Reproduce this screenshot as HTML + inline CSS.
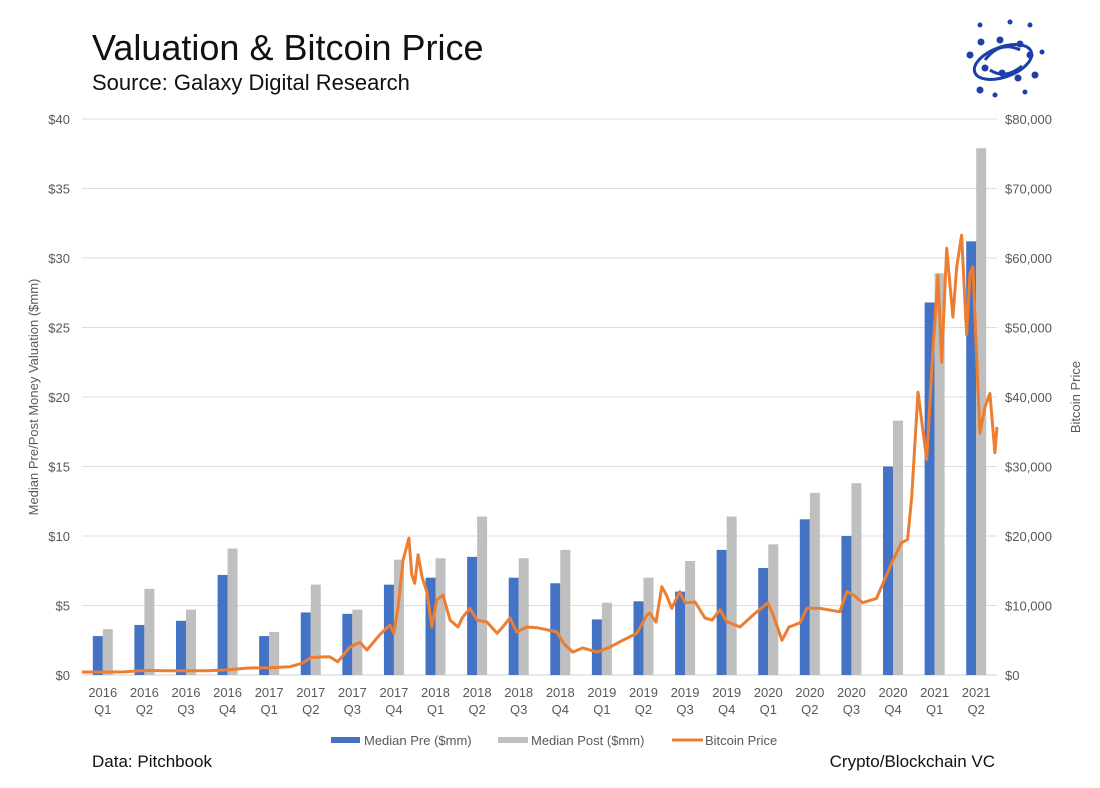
<!DOCTYPE html>
<html><head><meta charset="utf-8"><style>
body{margin:0;background:#fff;font-family:"Liberation Sans",sans-serif;}
#wrap{position:relative;width:1100px;height:788px;overflow:hidden;}
</style></head><body>
<div id="wrap">
<svg id="chart" width="1100" height="788" style="position:absolute;left:0;top:0">
<text x="92" y="60" font-size="36" fill="#111">Valuation &amp; Bitcoin Price</text>
<text x="92" y="90" font-size="22" fill="#111">Source: Galaxy Digital Research</text>
<text x="92" y="767" font-size="17" fill="#111">Data: Pitchbook</text>
<text x="995" y="767" font-size="17" fill="#111" text-anchor="end">Crypto/Blockchain VC</text>
<text transform="translate(38,397) rotate(-90)" font-size="13" fill="#595959" text-anchor="middle">Median Pre/Post Money Valuation ($mm)</text>
<text transform="translate(1080,397) rotate(-90)" font-size="13" fill="#595959" text-anchor="middle">Bitcoin Price</text>
<g stroke="#1f3fa8" fill="#1f3fa8">
<ellipse cx="1003" cy="62" rx="30" ry="15" fill="none" stroke-width="3" transform="rotate(-20 1003 62)"/>
<path d="M985 60 Q1000 40 1020 50 M990 70 Q1005 80 1022 66" fill="none" stroke-width="3"/>
<circle cx="981" cy="42" r="3"/><circle cx="1000" cy="40" r="3"/><circle cx="1020" cy="44" r="3"/><circle cx="1030" cy="55" r="3"/><circle cx="985" cy="68" r="3"/><circle cx="1002" cy="73" r="3"/><circle cx="1018" cy="78" r="3"/><circle cx="980" cy="90" r="3"/><circle cx="995" cy="95" r="2"/><circle cx="1035" cy="75" r="3"/><circle cx="970" cy="55" r="3"/><circle cx="1042" cy="52" r="2"/><circle cx="980" cy="25" r="2"/><circle cx="1010" cy="22" r="2"/><circle cx="1030" cy="25" r="2"/><circle cx="1025" cy="92" r="2"/>
</g>
<g id="grid"></g><g id="bars"></g><g id="line"></g><g id="axes"></g><g id="legend"></g>
</svg></div>
<script>
const categories=["2016|Q1","2016|Q2","2016|Q3","2016|Q4","2017|Q1","2017|Q2","2017|Q3","2017|Q4","2018|Q1","2018|Q2","2018|Q3","2018|Q4","2019|Q1","2019|Q2","2019|Q3","2019|Q4","2020|Q1","2020|Q2","2020|Q3","2020|Q4","2021|Q1","2021|Q2"];
const medianPre=[2.8,3.6,3.9,7.2,2.8,4.5,4.4,6.5,7.0,8.5,7.0,6.6,4.0,5.3,6.0,9.0,7.7,11.2,10.0,15.0,26.8,31.2];
const medianPost=[3.3,6.2,4.7,9.1,3.1,6.5,4.7,8.3,8.4,11.4,8.4,9.0,5.2,7.0,8.2,11.4,9.4,13.1,13.8,18.3,28.9,37.9];
const leftTicks=["$0","$5","$10","$15","$20","$25","$30","$35","$40"];
const rightTicks=["$0","$10,000","$20,000","$30,000","$40,000","$50,000","$60,000","$70,000","$80,000"];
// bitcoin: time in quarters since 2016-01-01, price in $k
const btcTime=[0,0.5,1,1.5,2,2.5,3,3.5,4,4.5,5,5.3,5.5,5.8,5.96,6.15,6.44,6.68,6.85,7.16,7.4,7.5,7.6,7.72,7.86,7.93,8.0,8.08,8.18,8.29,8.41,8.53,8.68,8.85,9.04,9.15,9.33,9.5,9.74,9.98,10.1,10.29,10.45,10.7,10.94,11.18,11.42,11.57,11.8,12.04,12.38,12.69,13.0,13.34,13.58,13.65,13.8,13.94,14.05,14.18,14.37,14.5,14.74,14.98,15.15,15.34,15.5,15.82,16.13,16.49,16.6,16.83,17.0,17.26,17.43,17.74,18.22,18.39,18.55,18.77,19.1,19.26,19.5,19.7,19.85,19.95,20.1,20.31,20.46,20.58,20.67,20.79,20.94,21.03,21.15,21.27,21.35,21.42,21.54,21.59,21.71,21.83,21.95,22.0];
const btcPrice=[0.43,0.42,0.45,0.65,0.62,0.6,0.62,0.73,1.0,1.05,1.2,1.7,2.5,2.6,2.6,1.9,4.0,4.7,3.6,5.8,7.2,6.0,9.8,16.5,19.7,14.4,13.2,17.3,14.0,12.0,6.9,10.8,11.5,7.9,6.9,8.3,9.6,7.9,7.6,6.0,6.8,8.2,6.2,6.9,6.8,6.5,6.2,4.6,3.3,3.9,3.3,4.0,5.0,6.0,8.6,8.9,7.6,12.7,11.5,9.6,12.0,10.4,10.5,8.2,7.9,9.4,7.7,6.9,8.6,10.4,8.9,5.0,6.9,7.5,9.6,9.6,9.1,12.0,11.5,10.4,11.0,13.2,16.5,19.0,19.5,25.6,40.7,31.0,47.0,57.5,45.0,61.4,51.5,58.7,63.3,49.0,57.8,58.7,41.4,34.8,38.5,40.5,32.0,35.7];

const X0=82,X1=997,Y0=675,Y1=119,N=categories.length;
const bw=(X1-X0)/N;
const yL=v=>Y0-(v/40)*(Y0-Y1);
const yR=v=>Y0-(v/80)*(Y0-Y1);
const xT=t=>X0+t*bw;
const xC=i=>X0+bw*(i+0.5);
const NS="http://www.w3.org/2000/svg";
function mk(tag,attrs,parent){const e=document.createElementNS(NS,tag);for(const k in attrs)e.setAttribute(k,attrs[k]);parent.appendChild(e);return e;}
const grid=document.getElementById('grid'),axes=document.getElementById('axes'),bars=document.getElementById('bars'),line=document.getElementById('line'),legend=document.getElementById('legend');
leftTicks.forEach((lab,i)=>{
  const y=yL(i*5);
  const g=mk('line',{x1:X0,x2:X1,y1:y,y2:y,stroke:i==0?'#d0d0d0':'#dedede','stroke-width':1},grid);
  
  
  const t=mk('text',{x:70,y:y+5,'font-size':13,fill:'#595959','text-anchor':'end'},axes);t.textContent=lab;
  
  
});
rightTicks.forEach((lab,i)=>{
  const t=mk('text',{x:1005,y:yR(i*10)+5,'font-size':13,fill:'#595959'},axes);t.textContent=lab;
  
  
});
categories.forEach((c,i)=>{
  const cx=xC(i),p=c.split('|');
  const a=mk('text',{x:cx,y:697,'font-size':13,fill:'#595959','text-anchor':'middle'},axes);a.textContent=p[0];
  
  
  const b=mk('text',{x:cx,y:714,'font-size':13,fill:'#595959','text-anchor':'middle'},axes);b.textContent=p[1];
  
  
  const r1=mk('rect',{x:cx-10,y:yL(medianPre[i]),width:10,height:Y0-yL(medianPre[i]),fill:'#4472C4'},bars);
  
  
  const r2=mk('rect',{x:cx,y:yL(medianPost[i]),width:10,height:Y0-yL(medianPost[i]),fill:'#BFBFBF'},bars);
  
  
});
const pts=btcTime.map((t,i)=>xT(t).toFixed(1)+','+yR(btcPrice[i]).toFixed(1)).join(' ');
const pl=mk('polyline',{points:pts,fill:'none',stroke:'#ED7D31','stroke-width':3,'stroke-linejoin':'round'},line);


const l1=mk('rect',{x:331,y:737,width:29,height:6,fill:'#4472C4'},legend);


const l2=mk('rect',{x:498,y:737,width:30,height:6,fill:'#BFBFBF'},legend);


const l3=mk('line',{x1:672,x2:703,y1:740,y2:740,stroke:'#ED7D31','stroke-width':3},legend);


[[364,'Median Pre ($mm)','legend-entry-pre'],[531,'Median Post ($mm)','legend-entry-post'],[705,'Bitcoin Price','legend-entry-bitcoin']].forEach(d=>{
  const t=mk('text',{x:d[0],y:745,'font-size':13,fill:'#595959'},legend);t.textContent=d[1];
  
  
});
</script>
</body></html>
